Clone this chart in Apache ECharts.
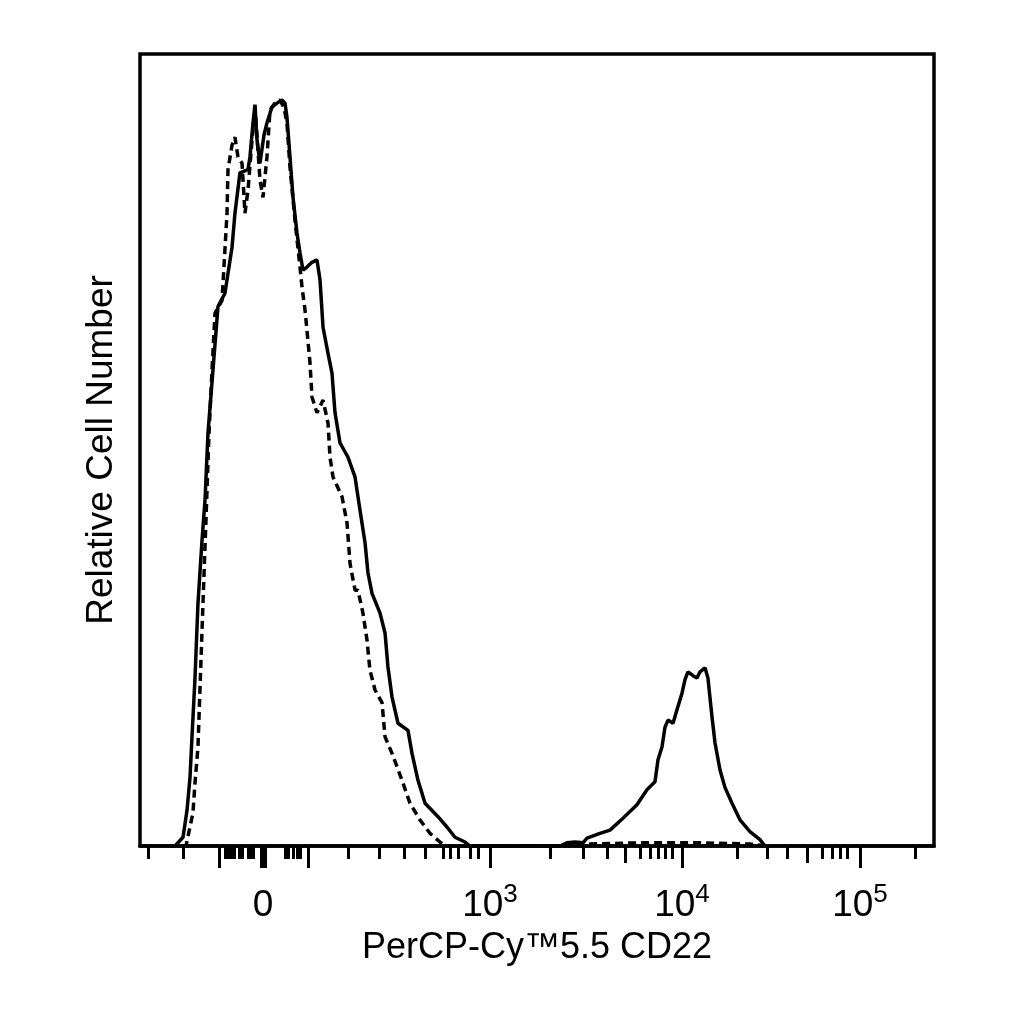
<!DOCTYPE html>
<html>
<head>
<meta charset="utf-8">
<title>PerCP-Cy5.5 CD22</title>
<script src="https://cdn.jsdelivr.net/npm/echarts@6/dist/echarts.min.js"></script>
<style>
    html, body { margin: 0; padding: 0; background: #fff; }
    #histogram { width: 1024px; height: 1024px; }
</style>
</head>
<body>
<div id="histogram"></div>
<script>
// display channel (0-1000, biexponential scale) and relative count (0-100)
var cd22Channel = [37.8, 44.1, 54.2, 59.2, 63.0, 65.5, 69.3, 73.0, 78.1, 81.9, 85.6, 91.9, 98.2, 107.0, 115.9, 119.6,
    125.9, 136.0, 138.5, 142.3, 144.8, 147.4, 151.1, 156.2, 159.9, 166.2, 172.5, 178.8, 182.6, 185.1, 188.9, 192.7,
    197.7, 201.5, 205.3, 210.3, 216.6, 222.9, 226.7, 230.5, 236.8, 241.8, 245.6, 251.9, 256.9, 261.9, 270.8, 277.1,
    283.4, 287.1, 292.2, 302.3, 308.6, 312.3, 317.4, 324.9, 337.5, 342.6, 350.1, 359.0, 375.3, 386.6, 396.7, 409.3,
    415.6, 529.0, 537.8, 547.8, 557.9, 563.0, 579.3, 591.9, 608.3, 625.9, 638.5, 648.6, 652.4, 657.4, 661.2, 665.0,
    671.3, 676.3, 682.6, 686.4, 690.1, 696.5, 701.5, 705.3, 711.6, 715.3, 720.4, 724.2, 730.5, 736.7, 745.6, 755.6,
    768.2, 780.8, 787.1];
var cd22Count = [0, 0, 1.1, 4.5, 8.7, 13.8, 21.3, 30.6, 38.6, 43.7, 52.1, 60.1, 68.1, 69.8, 75.6, 79.9,
    85.0, 85.4, 87.0, 91.3, 93.6, 89.1, 86.2, 89.8, 91.3, 93.3, 93.8, 94.2, 93.8, 92.0, 87.0, 81.9,
    77.4, 74.9, 72.7, 73.1, 73.7, 74.0, 71.5, 65.5, 62.2, 59.7, 54.7, 50.9, 50.0, 49.1, 46.6, 42.4,
    38.3, 34.5, 31.9, 29.4, 26.9, 22.6, 18.8, 15.5, 14.6, 11.7, 8.3, 5.4, 3.7, 2.4, 1.1, 0.5,
    0, 0, 0.4, 0.5, 0.4, 1.0, 1.6, 2.0, 3.5, 5.2, 7.1, 8.1, 10.9, 12.5, 15.0, 15.9,
    15.5, 17.2, 19.3, 21.0, 22.0, 21.5, 21.2, 22.0, 22.5, 21.2, 16.3, 13.0, 9.6, 7.4, 5.4, 3.3,
    1.8, 0.8, 0];

var isoChannel = [54.2, 57.9, 66.7, 69.3, 73.0, 79.3, 83.1, 86.9, 90.7, 94.5, 103.3, 109.6, 110.8, 115.9, 119.6, 123.4,
    128.5, 132.2, 136.0, 141.1, 144.8, 148.6, 151.1, 154.9, 159.9, 163.7, 170.0, 176.3, 181.4, 185.1, 188.9, 195.2,
    201.5, 204.0, 207.8, 210.3, 214.1, 216.6, 222.9, 230.5, 236.8, 239.3, 243.1, 254.4, 260.7, 264.5, 270.8, 274.5,
    280.8, 285.9, 289.6, 296.0, 304.8, 308.6, 317.4, 330.0, 340.0, 352.6, 365.2, 377.8, 384.1, 554.1, 566.7, 629.7,
    705.3, 768.2, 787.1];
var isoCount = [0, 0, 4.2, 8.0, 12.5, 30.6, 41.2, 52.1, 60.1, 67.3, 68.9, 79.9, 85.4, 88.5, 89.5, 87.0,
    86.2, 79.9, 82.8, 89.1, 93.3, 87.8, 84.1, 81.9, 87.0, 92.9, 93.8, 94.2, 93.2, 91.3, 85.7, 79.0,
    73.1, 70.6, 67.7, 65.1, 61.0, 56.7, 54.7, 56.3, 53.4, 49.1, 46.6, 44.1, 40.8, 35.7, 32.3, 32.3,
    29.4, 26.0, 22.2, 19.7, 18.1, 13.8, 11.7, 8.3, 5.4, 3.3, 1.6, 0.5, 0, 0, 0.25, 0.4,
    0.4, 0.25, 0];

var majorTicks = [99.5, 152.4, 154.9, 157.4, 211.6, 440.8, 682.6, 906.8];
var midTicks = [610.8, 840.0];
var minorTicks = [10.1, 54.2, 107.0, 110.8, 114.6, 118.4, 124.7, 128.5, 136.0, 138.5, 142.3, 182.6, 186.4, 192.7,
    197.7, 201.5, 262.0, 301.0, 332.5, 358.9, 381.6, 390.4, 400.5, 415.6, 425.7, 516.4, 557.9, 588.1, 629.7,
    642.3, 652.4, 661.2, 670.0, 751.9, 789.6, 814.8, 858.9, 871.5, 881.6, 890.4, 976.0];
var labelValues = [154.9, 440.8, 682.6, 906.8];
var labelBase = ['0', '10', '10', '10'];
var labelExp = ['', '3', '4', '5'];

(function () {
    'use strict';

    var FONT = '"Liberation Sans", Arial, sans-serif';
    var chart = echarts.init(document.getElementById('histogram'), null, {renderer: 'canvas'});

    function pairs(xs, ys) {
        var out = [];
        for (var i = 0; i < xs.length; i++) {
            out.push([xs[i], ys[i]]);
        }
        return out;
    }

    function tickLabel(value) {
        for (var i = 0; i < labelValues.length; i++) {
            if (Math.abs(labelValues[i] - value) < 0.5) {
                return labelExp[i] ? '{n|' + labelBase[i] + '}{s|' + labelExp[i] + '}' : '{n|' + labelBase[i] + '}';
            }
        }
        return '';
    }

    function tickAxis(ticks, len, withLabels) {
        var axis = {
            type: 'value',
            position: 'bottom',
            min: 0,
            max: 1000,
            splitLine: {show: false},
            axisLine: {show: withLabels, onZero: false, lineStyle: {color: '#000', width: 3.5}},
            axisTick: {show: true, customValues: ticks, length: len, lineStyle: {color: '#000', width: 3}},
            axisLabel: {show: false}
        };
        if (withLabels) {
            axis.name = 'PerCP-Cy\u21225.5 CD22';
            axis.nameLocation = 'middle';
            axis.nameGap = 84;
            axis.nameTextStyle = {color: '#000', fontFamily: FONT, fontSize: 36};
            axis.axisLabel = {
                show: true,
                customValues: labelValues,
                margin: 38,
                formatter: tickLabel,
                rich: {
                    n: {color: '#000', fontFamily: FONT, fontSize: 37, lineHeight: 40, verticalAlign: 'bottom'},
                    s: {color: '#000', fontFamily: FONT, fontSize: 26, lineHeight: 26, verticalAlign: 'bottom',
                        padding: [0, 0, 16, 0]}
                }
            };
        }
        return axis;
    }

    var lineBase = {
        type: 'line',
        showSymbol: false,
        silent: true,
        animation: false,
        xAxisIndex: 0
    };

    chart.setOption({
        backgroundColor: '#fff',
        animation: false,
        grid: {
            left: 140,
            right: 90,
            top: 54,
            bottom: 178,
            show: true,
            borderColor: '#000',
            borderWidth: 3.5,
            backgroundColor: 'transparent'
        },
        xAxis: [
            tickAxis(majorTicks, 22, true),
            tickAxis(midTicks, 17, false),
            tickAxis(minorTicks, 13, false)
        ],
        yAxis: {
            type: 'value',
            min: 0,
            max: 100,
            name: 'Relative Cell Number',
            nameLocation: 'middle',
            nameGap: 20,
            nameTextStyle: {color: '#000', fontFamily: FONT, fontSize: 37},
            axisLine: {show: false},
            axisTick: {show: false},
            axisLabel: {show: false},
            splitLine: {show: false}
        },
        series: [
            echarts.util.extend({
                name: 'isotype',
                data: pairs(isoChannel, isoCount),
                lineStyle: {color: '#000', width: 3.5, type: [8, 5]}
            }, lineBase),
            echarts.util.extend({
                name: 'CD22',
                data: pairs(cd22Channel, cd22Count),
                lineStyle: {color: '#000', width: 3.5, type: 'solid'}
            }, lineBase)
        ]
    });
})();
</script>
</body>
</html>
